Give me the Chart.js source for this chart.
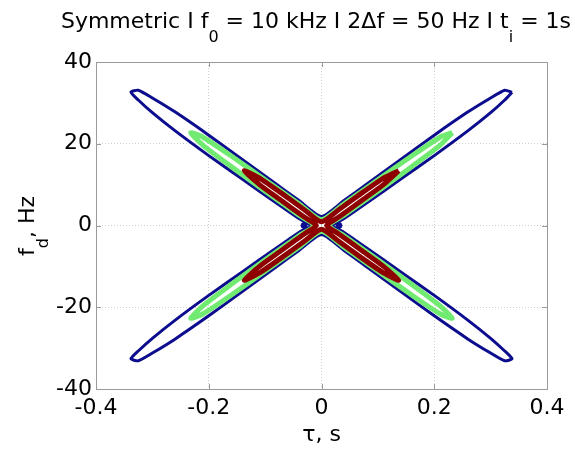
<!DOCTYPE html>
<html>
<head>
<meta charset="utf-8">
<script src="https://cdn.jsdelivr.net/npm/chart.js@4.4.0/dist/chart.umd.min.js"></script>
<style>
  html, body { margin: 0; padding: 0; background: #fff; }
  #wrap { width: 575px; height: 450px; }
</style>
</head>
<body>
<div id="wrap"><canvas id="ambChart"></canvas></div>
<script>
// Contour lines of the ambiguity function (tau in s, fd in Hz)

// outer level (dark blue)
var blueTau = [0.338, 0.325, 0.30, 0.26, 0.20, 0.14, 0.08, 0.04, 0.02,
  0.04, 0.08, 0.14, 0.20, 0.26, 0.30, 0.325, 0.338,
  0.325, 0.30, 0.26, 0.20, 0.14, 0.08, 0.04, 0,
  -0.04, -0.08, -0.14, -0.20, -0.26, -0.30, -0.325, -0.338,
  -0.325, -0.30, -0.26, -0.20, -0.14, -0.08, -0.04, -0.02,
  -0.04, -0.08, -0.14, -0.20, -0.26, -0.30, -0.325, -0.338,
  -0.325, -0.30, -0.26, -0.20, -0.14, -0.08, -0.04, 0,
  0.04, 0.08, 0.14, 0.20, 0.26, 0.30, 0.325, 0.338];
var blueFd = [32.6, 30.7, 27.6, 23.2, 17.1, 11.3, 5.5, 1.7, 0,
  -1.7, -5.5, -11.3, -17.1, -23.2, -27.6, -30.7, -32.6,
  -33.1, -31.2, -27.8, -22.1, -16.1, -10.1, -6.1, -2.2,
  -6.1, -10.1, -16.1, -22.1, -27.8, -31.2, -33.1, -32.6,
  -30.7, -27.6, -23.2, -17.1, -11.3, -5.5, -1.7, 0,
  1.7, 5.5, 11.3, 17.1, 23.2, 27.6, 30.7, 32.6,
  33.1, 31.2, 27.8, 22.1, 16.1, 10.1, 6.1, 2.2,
  6.1, 10.1, 16.1, 22.1, 27.8, 31.2, 33.1, 32.6];

// middle level (light green)
var greenTau = [0.232, 0.21, 0.16, 0.10, 0.04, 0.013,
  0.04, 0.10, 0.16, 0.21, 0.232,
  0.21, 0.16, 0.10, 0.04, 0,
  -0.04, -0.10, -0.16, -0.21, -0.232,
  -0.21, -0.16, -0.10, -0.04, -0.013,
  -0.04, -0.10, -0.16, -0.21, -0.232,
  -0.21, -0.16, -0.10, -0.04, 0,
  0.04, 0.10, 0.16, 0.21, 0.232];
var greenFd = [22.7, 19.6, 14.4, 8.4, 2.5, 0,
  -2.5, -8.4, -14.4, -19.6, -22.7,
  -21.6, -17.0, -11.2, -5.3, -1.4,
  -5.3, -11.2, -17.0, -21.6, -22.7,
  -19.6, -14.4, -8.4, -2.5, 0,
  2.5, 8.4, 14.4, 19.6, 22.7,
  21.6, 17.0, 11.2, 5.3, 1.4,
  5.3, 11.2, 17.0, 21.6, 22.7];

// inner level (dark red)
var redTau = [0.137, 0.11, 0.07, 0.03, 0.009,
  0.03, 0.07, 0.11, 0.137,
  0.11, 0.07, 0.03, 0,
  -0.03, -0.07, -0.11, -0.137,
  -0.11, -0.07, -0.03, -0.009,
  -0.03, -0.07, -0.11, -0.137,
  -0.11, -0.07, -0.03, 0,
  0.03, 0.07, 0.11, 0.137];
var redFd = [13.4, 10.0, 6.0, 2.0, 0,
  -2.0, -6.0, -10.0, -13.4,
  -11.6, -7.8, -3.8, -0.9,
  -3.8, -7.8, -11.6, -13.4,
  -10.0, -6.0, -2.0, 0,
  2.0, 6.0, 10.0, 13.4,
  11.6, 7.8, 3.8, 0.9,
  3.8, 7.8, 11.6, 13.4];

// two small islands of the outer level beside the centre
var islandTau = [-0.031, 0.031];
var islandFd = [0, 0];

var xTicks = [-0.4, -0.2, 0, 0.2, 0.4];
var yTicks = [-40, -20, 0, 20, 40];

function pts(xs, ys) {
    return xs.map(function (x, i) { return {x: x, y: ys[i]}; });
}

var FONT = '"DejaVu Sans", sans-serif';

// title / y label with MATLAB style subscripts, plus the axes box
var framePlugin = {
    id: 'frame',
    afterDraw: function (chart) {
        var ctx = chart.ctx, a = chart.chartArea;
        var xs = chart.scales.x, ys = chart.scales.y;
        ctx.save();
        ctx.strokeStyle = '#9a9a9a';
        ctx.lineWidth = 1;
        ctx.strokeRect(Math.round(a.left) + 0.5, Math.round(a.top) + 0.5,
            Math.round(a.right - a.left), Math.round(a.bottom - a.top));
        ctx.beginPath();
        xTicks.forEach(function (v) {
            var px = Math.round(xs.getPixelForValue(v)) + 0.5;
            ctx.moveTo(px, a.bottom); ctx.lineTo(px, a.bottom - 5);
            ctx.moveTo(px, a.top); ctx.lineTo(px, a.top + 5);
        });
        yTicks.forEach(function (v) {
            var py = Math.round(ys.getPixelForValue(v)) + 0.5;
            ctx.moveTo(a.left, py); ctx.lineTo(a.left + 5, py);
            ctx.moveTo(a.right, py); ctx.lineTo(a.right - 5, py);
        });
        ctx.stroke();

        ctx.fillStyle = '#000';
        ctx.textBaseline = 'alphabetic';
        ctx.textAlign = 'left';
        drawParts(ctx, [['Symmetric I f', 0], ['0', 1], [' = 10 kHz I 2\u0394f = 50 Hz I t', 0], ['i', 1], [' = 1s', 0]],
            316, 28, 0);
        drawParts(ctx, [['f', 0], ['d', 1], [', Hz', 0]], 34, 226, -Math.PI / 2);
        ctx.restore();
    }
};

function drawParts(ctx, parts, cx, cy, rot) {
    var total = 0;
    parts.forEach(function (p) {
        ctx.font = (p[1] ? '16px ' : '22px ') + FONT;
        total += ctx.measureText(p[0]).width;
    });
    ctx.save();
    ctx.translate(cx, cy);
    ctx.rotate(rot);
    var x = -total / 2;
    parts.forEach(function (p) {
        ctx.font = (p[1] ? '16px ' : '22px ') + FONT;
        ctx.fillText(p[0], x, p[1] ? 14 : 0);
        x += ctx.measureText(p[0]).width;
    });
    ctx.restore();
}

var gridColor = function (c) {
    var v = c.tick ? c.tick.value : null;
    return (v === null || Math.abs(v) >= 0.39 && Math.abs(v) < 1 || Math.abs(v) === 40) ? 'rgba(0,0,0,0)' : '#cfcfcf';
};

var ctx = document.getElementById('ambChart').getContext('2d');
new Chart(ctx, {
    type: 'scatter',
    data: {
        datasets: [
            {label: 'inner', data: pts(redTau, redFd), showLine: true, borderColor: '#8e0000', borderWidth: 5, pointRadius: 0, tension: 0.2},
            {label: 'middle', data: pts(greenTau, greenFd), showLine: true, borderColor: '#70ea70', borderWidth: 5, pointRadius: 0, tension: 0.2},
            {label: 'outer', data: pts(blueTau, blueFd), showLine: true, borderColor: '#0c0c8e', borderWidth: 3, pointRadius: 0, tension: 0.2},
            {label: 'islands', data: pts(islandTau, islandFd), showLine: false, backgroundColor: '#0c0c8e', borderColor: '#0c0c8e', pointRadius: 3}
        ]
    },
    options: {
        responsive: true,
        maintainAspectRatio: false,
        animation: false,
        layout: {padding: {top: 62, right: 28, bottom: 0, left: 0}},
        plugins: {legend: {display: false}, tooltip: {enabled: false}},
        scales: {
            x: {
                type: 'linear', min: -0.4, max: 0.4,
                afterBuildTicks: function (s) { s.ticks = xTicks.map(function (v) { return {value: v}; }); },
                afterFit: function (s) { s.height = 61; },
                grid: {color: gridColor, drawTicks: false},
                border: {display: false, dash: [1, 2]},
                ticks: {color: '#000', font: {family: FONT, size: 22}, padding: 6,
                    callback: function (v) { return String(v); }},
                title: {display: true, text: '\u03c4, s', color: '#000', font: {family: FONT, size: 22}, padding: {top: 0, bottom: 2}}
            },
            y: {
                type: 'linear', min: -40, max: 40,
                afterBuildTicks: function (s) { s.ticks = yTicks.map(function (v) { return {value: v}; }); },
                afterFit: function (s) { s.width = 96; },
                grid: {color: gridColor, drawTicks: false},
                border: {display: false, dash: [1, 2]},
                ticks: {color: '#000', font: {family: FONT, size: 22}, padding: 4,
                    callback: function (v) { return String(v); }}
            }
        }
    },
    plugins: [framePlugin]
});
</script>
</body>
</html>
